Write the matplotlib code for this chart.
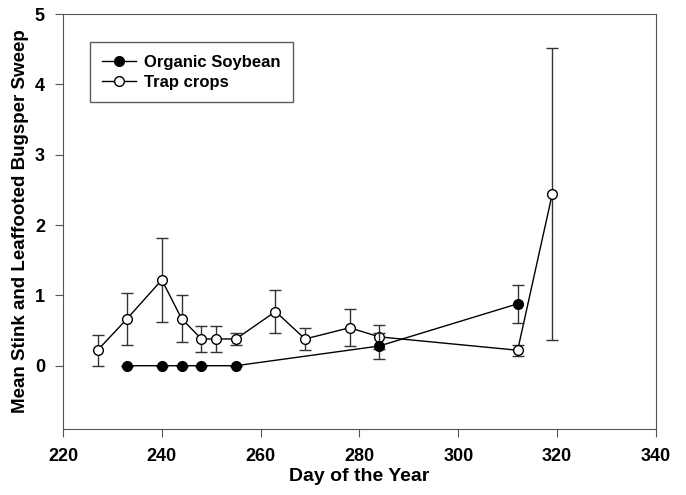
# 椿象/缘蝽 每网虫数: 有机大豆 vs 诱集作物
import matplotlib
matplotlib.use("Agg")
import matplotlib.pyplot as plt

# 有机大豆
org_day = [233, 240, 244, 248, 255, 284, 312]
org_mean = [0, 0, 0, 0, 0, 0.28, 0.88]
org_se = [0, 0, 0, 0, 0, 0.18, 0.27]

# 诱集作物
trap_day = [227, 233, 240, 244, 248, 251, 255, 263, 269, 278, 284, 312, 319]
trap_mean = [0.22, 0.67, 1.22, 0.67, 0.38, 0.38, 0.38, 0.77, 0.38, 0.54, 0.41, 0.22, 2.44]
trap_se = [0.22, 0.37, 0.60, 0.34, 0.18, 0.18, 0.08, 0.31, 0.16, 0.26, 0.17, 0.08, 2.08]

plt.rcParams.update({"font.family": ["Liberation Sans", "DejaVu Sans"],
                     "font.weight": "bold", "font.size": 12})

fig = plt.figure(figsize=(6.86, 4.95), dpi=100)
ax = fig.add_axes([0.0918, 0.1333, 0.8645, 0.8384])

tc = ax.errorbar(trap_day, trap_mean, yerr=trap_se, fmt="o-", color="black", mfc="white",
                 mec="black", markersize=7, lw=1, elinewidth=1, ecolor="#333333", capsize=4,
                 zorder=2)
oc = ax.errorbar(org_day, org_mean, yerr=org_se, fmt="o-", color="black", mfc="black",
                 mec="black", markersize=7, lw=1, elinewidth=1, ecolor="#333333", capsize=4,
                 zorder=3)

ax.set_xlim(220, 340)
ax.set_ylim(-0.9, 5)
ax.set_xticks(range(220, 341, 20))
ax.set_yticks(range(0, 6))
for s in ax.spines.values():
    s.set_color("#555555")
ax.tick_params(direction="out", length=6, color="#555555", labelsize=13)
ax.tick_params(axis="x", pad=8)
ax.tick_params(axis="y", pad=7)
ax.set_xlabel("Day of the Year", fontsize=14, fontweight="bold", labelpad=2)
ax.set_ylabel("Mean Stink and Leaffooted Bugsper Sweep", fontsize=13.5, fontweight="bold",
              labelpad=4)

leg = ax.legend([oc[0], tc[0]], ["Organic Soybean", "Trap crops"], loc="upper left",
                bbox_to_anchor=(0.0455, 0.9325), borderaxespad=0, frameon=True,
                fancybox=False, edgecolor="#333333", fontsize=12, handlelength=2.0,
                borderpad=0.75, labelspacing=0.3, handletextpad=0.5)
leg.get_frame().set_linewidth(1)

fig.savefig("out.png", dpi=100)
